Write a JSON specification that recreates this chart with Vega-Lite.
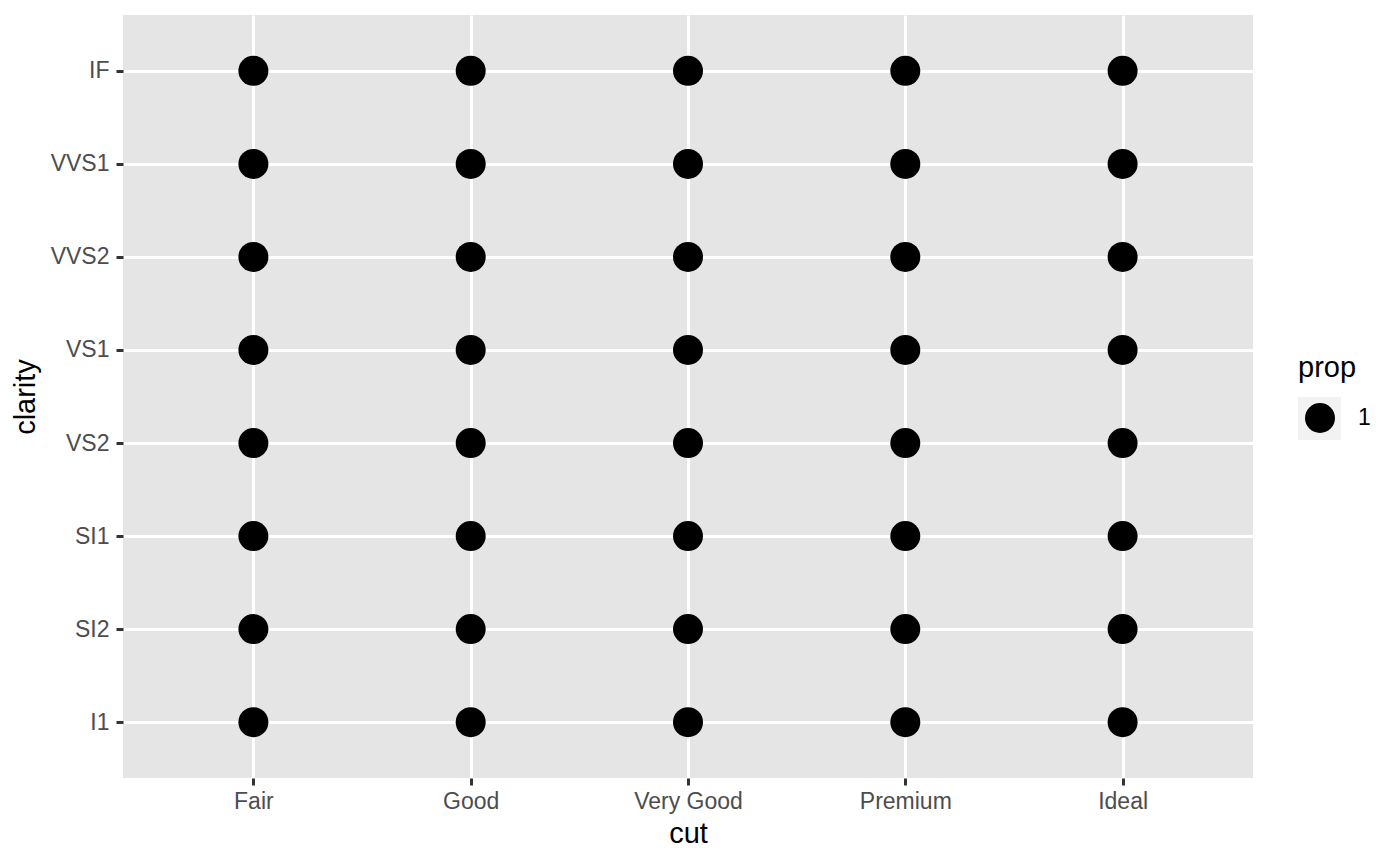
{
  "$schema": "https://vega.github.io/schema/vega-lite/v6.json",
  "width": 1130,
  "height": 763,
  "autosize": {"type": "none"},
  "padding": {"left": 123, "top": 15, "right": 147, "bottom": 88},
  "background": "white",
  "config": {
    "view": {"fill": "#E5E5E5", "stroke": null},
    "font": "Liberation Sans",
    "axis": {
      "domain": false,
      "grid": true,
      "gridColor": "white",
      "gridWidth": 3,
      "tickColor": "#333333",
      "tickWidth": 3,
      "tickSize": 7,
      "labelFont": "Liberation Sans",
      "labelFontSize": 23,
      "labelColor": "#4D4D4D",
      "labelPadding": 7,
      "titleFont": "Liberation Sans",
      "titleFontSize": 29,
      "titleFontWeight": "normal",
      "titleColor": "black"
    },
    "legend": {"padding": 0}
  },
  "data": {
    "values": [
      {"cut": "Fair", "clarity": "IF", "prop": 1},
      {"cut": "Fair", "clarity": "VVS1", "prop": 1},
      {"cut": "Fair", "clarity": "VVS2", "prop": 1},
      {"cut": "Fair", "clarity": "VS1", "prop": 1},
      {"cut": "Fair", "clarity": "VS2", "prop": 1},
      {"cut": "Fair", "clarity": "SI1", "prop": 1},
      {"cut": "Fair", "clarity": "SI2", "prop": 1},
      {"cut": "Fair", "clarity": "I1", "prop": 1},
      {"cut": "Good", "clarity": "IF", "prop": 1},
      {"cut": "Good", "clarity": "VVS1", "prop": 1},
      {"cut": "Good", "clarity": "VVS2", "prop": 1},
      {"cut": "Good", "clarity": "VS1", "prop": 1},
      {"cut": "Good", "clarity": "VS2", "prop": 1},
      {"cut": "Good", "clarity": "SI1", "prop": 1},
      {"cut": "Good", "clarity": "SI2", "prop": 1},
      {"cut": "Good", "clarity": "I1", "prop": 1},
      {"cut": "Very Good", "clarity": "IF", "prop": 1},
      {"cut": "Very Good", "clarity": "VVS1", "prop": 1},
      {"cut": "Very Good", "clarity": "VVS2", "prop": 1},
      {"cut": "Very Good", "clarity": "VS1", "prop": 1},
      {"cut": "Very Good", "clarity": "VS2", "prop": 1},
      {"cut": "Very Good", "clarity": "SI1", "prop": 1},
      {"cut": "Very Good", "clarity": "SI2", "prop": 1},
      {"cut": "Very Good", "clarity": "I1", "prop": 1},
      {"cut": "Premium", "clarity": "IF", "prop": 1},
      {"cut": "Premium", "clarity": "VVS1", "prop": 1},
      {"cut": "Premium", "clarity": "VVS2", "prop": 1},
      {"cut": "Premium", "clarity": "VS1", "prop": 1},
      {"cut": "Premium", "clarity": "VS2", "prop": 1},
      {"cut": "Premium", "clarity": "SI1", "prop": 1},
      {"cut": "Premium", "clarity": "SI2", "prop": 1},
      {"cut": "Premium", "clarity": "I1", "prop": 1},
      {"cut": "Ideal", "clarity": "IF", "prop": 1},
      {"cut": "Ideal", "clarity": "VVS1", "prop": 1},
      {"cut": "Ideal", "clarity": "VVS2", "prop": 1},
      {"cut": "Ideal", "clarity": "VS1", "prop": 1},
      {"cut": "Ideal", "clarity": "VS2", "prop": 1},
      {"cut": "Ideal", "clarity": "SI1", "prop": 1},
      {"cut": "Ideal", "clarity": "SI2", "prop": 1},
      {"cut": "Ideal", "clarity": "I1", "prop": 1}
    ]
  },
  "encoding": {
    "x": {
      "field": "cut",
      "type": "ordinal",
      "sort": ["Fair", "Good", "Very Good", "Premium", "Ideal"],
      "scale": {"type": "point", "padding": 0.6},
      "axis": {"labelAngle": 0, "labelPadding": 5, "title": "cut", "titlePadding": 6}
    },
    "y": {
      "field": "clarity",
      "type": "ordinal",
      "sort": ["IF", "VVS1", "VVS2", "VS1", "VS2", "SI1", "SI2", "I1"],
      "scale": {"type": "point", "padding": 0.6},
      "axis": {"title": "clarity", "titlePadding": 10}
    }
  },
  "layer": [
    {
      "mark": {"type": "square", "filled": true, "opacity": 0},
      "encoding": {
        "color": {
          "field": "prop",
          "type": "nominal",
          "scale": {"domain": [1], "range": ["#F2F2F2"]},
          "legend": {
            "orient": "none",
            "legendX": 1175,
            "legendY": 382,
            "title": null,
            "symbolType": "square",
            "symbolSize": 1849,
            "symbolOpacity": 1,
            "symbolStrokeWidth": 0,
            "labelOpacity": 0,
            "labelFontSize": 23
          }
        }
      }
    },
    {
      "mark": {"type": "circle", "color": "black", "opacity": 1},
      "encoding": {
        "size": {
          "field": "prop",
          "type": "ordinal",
          "scale": {"range": [900, 900]},
          "legend": {
            "orient": "none",
            "legendX": 1175,
            "legendY": 339,
            "title": "prop",
            "titleFont": "Liberation Sans",
            "titleFontSize": 29,
            "titleFontWeight": "normal",
            "titleColor": "black",
            "titlePadding": 20,
            "labelFont": "Liberation Sans",
            "labelFontSize": 23,
            "labelColor": "black",
            "labelOffset": 23,
            "symbolOffset": 7,
            "symbolStrokeWidth": 0,
            "symbolOpacity": 1
          }
        }
      }
    }
  ]
}
